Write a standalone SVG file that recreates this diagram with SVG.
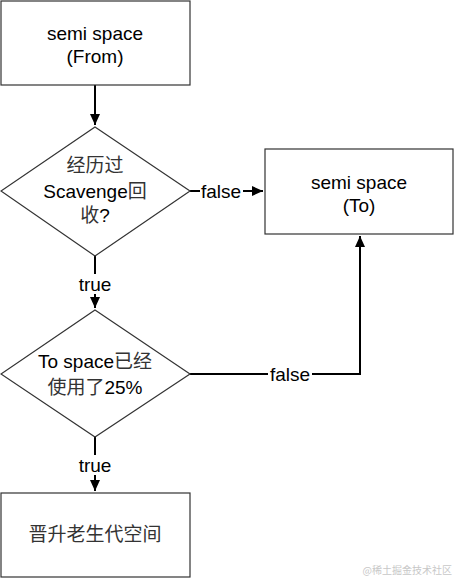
<svg xmlns="http://www.w3.org/2000/svg" width="456" height="579" viewBox="0 0 456 579">
<style>
.box{fill:#fff;stroke:#333;stroke-width:1.2}
.t{font-family:"Liberation Sans","Noto Sans CJK SC",sans-serif;font-size:19px;fill:#000;text-anchor:middle}
.cn{fill:#333}
.edge{fill:none;stroke:#000;stroke-width:2}
.lbl{fill:#fff}
</style>
<defs>
<marker id="ah" markerUnits="userSpaceOnUse" markerWidth="12" markerHeight="10" refX="11" refY="5" orient="auto">
<path d="M0,0 L11,5 L0,10 Z" fill="#000"/>
</marker>
</defs>
<rect width="456" height="579" fill="#fff"/>
<g id="connectors">
<path class="edge" d="M95,85 V125" marker-end="url(#ah)"/>
<path class="edge" d="M190,191 H263" marker-end="url(#ah)"/>
<rect class="lbl" x="200" y="181" width="43" height="20"/>
<text class="t" x="221" y="198">false</text>
<path class="edge" d="M95,256 V308" marker-end="url(#ah)"/>
<rect class="lbl" x="76" y="274" width="38" height="20"/>
<text class="t" x="95" y="291">true</text>
<path class="edge" d="M190,374 H360 V236" marker-end="url(#ah)"/>
<rect class="lbl" x="268" y="364" width="44" height="20"/>
<text class="t" x="290" y="381">false</text>
<path class="edge" d="M95,437 V491" marker-end="url(#ah)"/>
<rect class="lbl" x="76" y="455" width="38" height="20"/>
<text class="t" x="95" y="472">true</text>
</g>
<g id="from">
<rect class="box" x="1" y="1" width="189" height="84"/>
<text class="t" x="95" y="40">semi space</text>
<text class="t" x="95" y="63">(From)</text>
</g>
<g id="cond1">
<path class="box" d="M95,127 L190,191 L95,256 L1,191 Z"/>
<text class="t cn" x="95" y="172">经历过</text>
<text class="t" x="95" y="198">Scavenge<tspan class="cn">回</tspan></text>
<text class="t" x="95" y="222"><tspan class="cn">收</tspan>?</text>
</g>
<g id="to">
<rect class="box" x="265" y="149" width="188" height="85"/>
<text class="t" x="359" y="189">semi space</text>
<text class="t" x="359" y="212">(To)</text>
</g>
<g id="cond2">
<path class="box" d="M95,310 L190,374 L95,437 L1,374 Z"/>
<text class="t" x="95" y="368">To space<tspan class="cn">已经</tspan></text>
<text class="t" x="95" y="394"><tspan class="cn">使用了</tspan>25%</text>
</g>
<g id="old">
<rect class="box" x="1" y="493" width="189" height="84"/>
<text class="t cn" x="95" y="541">晋升老生代空间</text>
</g>
<text x="452" y="574" style="font-family:'Noto Sans CJK SC',sans-serif;font-size:10px;fill:#c8c8c8;text-anchor:end">@稀土掘金技术社区</text>
</svg>
